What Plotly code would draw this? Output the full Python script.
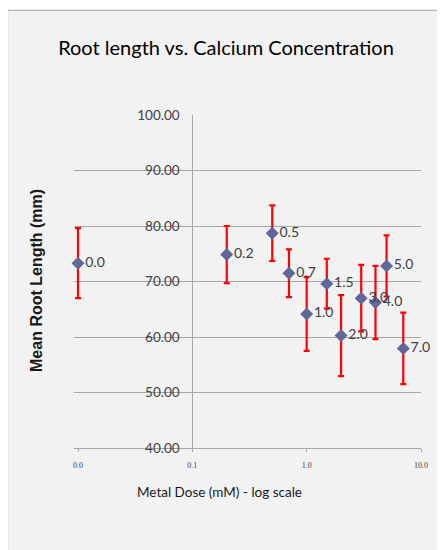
import math
import plotly.graph_objects as go

dose_labels = ["0.0", "0.2", "0.5", "0.7", "1.0", "1.5", "2.0", "3.0", "4.0", "5.0", "7.0"]
dose = [0.0, 0.2, 0.5, 0.7, 1.0, 1.5, 2.0, 3.0, 4.0, 5.0, 7.0]
mean_length = [73.3, 74.85, 78.7, 71.5, 64.15, 69.6, 60.25, 67.0, 66.2, 72.8, 57.95]
err_length = [6.3, 5.15, 5.0, 4.3, 6.65, 4.5, 7.3, 6.0, 6.6, 5.5, 6.45]
x_tickvals = [0.01, 0.1, 1, 10]
x_ticktext = ["0.0", "0.1", "1.0", "10.0"]
y_tickvals = [40, 50, 60, 70, 80, 90, 100]

# zero dose is shown at the left end (0.01) of the log axis
x_plot = [d if d > 0 else 0.01 for d in dose]

# page has an 8px body margin; figure is sized to fit the 445x550 window
W, H = 437, 542
pad_dec = 0.035                      # small extra room so the first error bar is not clipped
dec_px = (413.0 - 70.3) / 3.0
L = 70.3 - pad_dec * dec_px
R = 413.0
T, B = 106.7, 439.7
pw, ph = R - L, B - T
xr = [-2 - pad_dec, 1]


def px_x(x):
    return (x - L) / pw


def px_y(y):
    return (B - y) / ph


fig = go.Figure()
fig.add_trace(go.Scatter(
    x=x_plot, y=mean_length,
    mode="markers+text",
    text=dose_labels,
    textposition="middle right",
    textfont=dict(family="Lato, Open Sans, sans-serif", size=14, color="#404040"),
    marker=dict(symbol="diamond", size=10, color="#5f6898"),
    error_y=dict(type="data", array=err_length, visible=True,
                 color="#ff0000", thickness=2.2, width=3),
    cliponaxis=False,
    showlegend=False,
))

fig.update_layout(
    width=W, height=H,
    margin=dict(l=L, r=W - R, t=T, b=H - B, pad=0),
    paper_bgcolor="white",
    plot_bgcolor="rgba(0,0,0,0)",
    title=dict(text="Root length vs. Calcium Concentration",
               x=218 / W, xref="container", xanchor="center",
               y=1 - 40 / H, yref="container", yanchor="middle",
               font=dict(family="Lato, Open Sans, sans-serif", size=20, color="#000000")),
    xaxis=dict(type="log", range=xr,
               tickvals=x_tickvals, ticktext=x_ticktext,
               tickfont=dict(family="Liberation Serif, serif", size=8, color="#404040"),
               ticks="outside", ticklen=3, tickcolor="#a6a6a6",
               ticklabelstandoff=6,
               showline=True, linecolor="#a6a6a6", linewidth=1,
               showgrid=False, zeroline=False),
    yaxis=dict(range=[40, 100], tickvals=y_tickvals, tickformat=".2f",
               anchor="free", position=(-1 - xr[0]) / (xr[1] - xr[0]),
               tickfont=dict(family="Lato, sans-serif", size=13.5, color="#404040"),
               ticks="", ticklabelstandoff=10,
               showline=True, linecolor="#a6a6a6", linewidth=1,
               showgrid=True, gridcolor="#a6a6a6", gridwidth=1, zeroline=False),
    shapes=[dict(type="rect", xref="paper", yref="paper",
                 x0=px_x(0), x1=px_x(W + 20), y0=px_y(2), y1=px_y(H + 20),
                 fillcolor="#f2f2f2", line=dict(color="#a0a0a0", width=1),
                 layer="below")],
    annotations=[
        dict(text="Mean Root Length (mm)", xref="paper", yref="paper",
             x=px_x(29), y=px_y(272), textangle=-90, showarrow=False,
             xanchor="center", yanchor="middle",
             font=dict(family="Liberation Sans, Arial, sans-serif", size=16,
                       color="#1a1a1a", weight="bold")),
        dict(text="Metal Dose (mM) - log scale", xref="paper", yref="paper",
             x=px_x(212), y=px_y(484), showarrow=False,
             xanchor="center", yanchor="middle",
             font=dict(family="Lato, Open Sans, sans-serif", size=13.5, color="#1a1a1a")),
    ],
)

fig.write_html("out.html")
